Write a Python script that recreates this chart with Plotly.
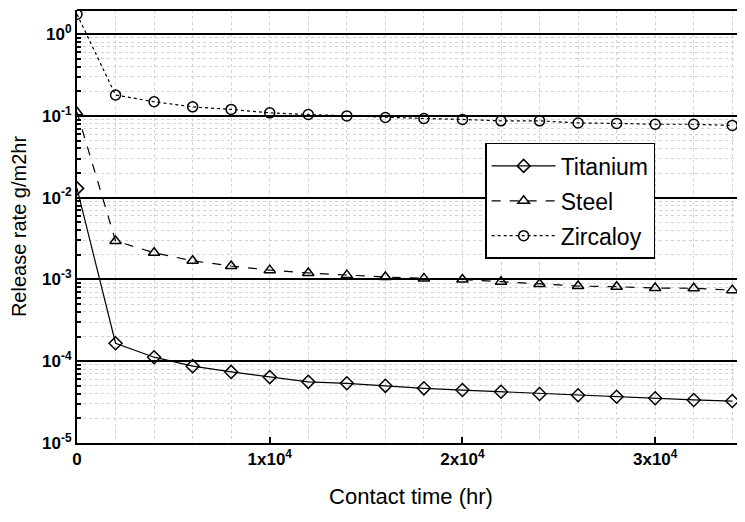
import plotly.graph_objects as go

time_hr = [0, 2000, 4000, 6000, 8000, 10000, 12000, 14000, 16000, 18000,
           20000, 22000, 24000, 26000, 28000, 30000, 32000, 34000]
titanium = [1.3e-2, 1.66e-4, 1.12e-4, 8.7e-5, 7.4e-5, 6.4e-5, 5.6e-5, 5.37e-5, 5.0e-5,
            4.66e-5, 4.44e-5, 4.24e-5, 3.97e-5, 3.83e-5, 3.68e-5, 3.52e-5, 3.36e-5, 3.26e-5]
steel = [0.111, 2.95e-3, 2.12e-3, 1.69e-3, 1.46e-3, 1.30e-3, 1.2e-3, 1.13e-3, 1.07e-3,
         1.03e-3, 1.0e-3, 9.4e-4, 8.8e-4, 8.3e-4, 8.15e-4, 7.85e-4, 7.8e-4, 7.4e-4]
zircaloy = [1.75, 0.18, 0.149, 0.129, 0.12, 0.109, 0.104, 0.100, 0.0957,
            0.093, 0.0905, 0.087, 0.087, 0.082, 0.081, 0.079, 0.079, 0.0765]

y_tickvals = [1e-5, 1e-4, 1e-3, 1e-2, 1e-1, 1e0]
y_ticktext = ["<b>10<sup>-5</sup></b>", "<b>10<sup>-4</sup></b>", "<b>10<sup>-3</sup></b>",
              "<b>10<sup>-2</sup></b>", "<b>10<sup>-1</sup></b>", "<b>10<sup>0</sup></b>"]
x_tickvals = [0, 10000, 20000, 30000]
x_ticktext = ["<b>0</b>", "<b>1x10<sup>4</sup></b>", "<b>2x10<sup>4</sup></b>", "<b>3x10<sup>4</sup></b>"]

y_minor = [m * 10.0 ** e for e in range(-5, 1) for m in range(2, 10)]
x_minor = list(range(2000, 36000, 2000))

fig = go.Figure()
series = [("Titanium", titanium, "solid", "diamond-open"),
          ("Steel", steel, "dash", "triangle-up-open"),
          ("Zircaloy", zircaloy, "dot", "circle-open")]
for name, vals, dash, sym in series:
    fig.add_trace(go.Scatter(
        x=time_hr, y=vals, name=name, mode="lines+markers", legendgroup=name,
        line=dict(color="black", width=1.2, dash=dash),
        marker=dict(symbol=sym, size=10, color="black", line=dict(width=1.5, color="black")),
    ))

# page body has an 8px margin, so the figure is 8px smaller and margins compensate
fig.update_layout(
    width=737, height=514,
    margin=dict(l=69, r=0, t=2, b=79),
    plot_bgcolor="white", paper_bgcolor="white",
    font=dict(family="Liberation Sans, Arial", color="black", size=15),
    legend=dict(x=0.611, y=0.693, xanchor="left", yanchor="top",
                bgcolor="white", bordercolor="black", borderwidth=1.5,
                font=dict(size=23), itemwidth=64, tracegroupgap=2,
                traceorder="grouped", entrywidth=135, entrywidthmode="pixels"),
    showlegend=True,
)
fig.update_xaxes(
    range=[0, 34660], tickvals=x_tickvals, ticktext=x_ticktext,
    ticks="inside", ticklen=6, tickcolor="black", tickwidth=2,
    showline=True, linecolor="black", linewidth=2, mirror=False,
    showgrid=False, zeroline=False, automargin=False,
    tickfont=dict(size=17),
    title=dict(text="Contact time (hr)", font=dict(size=22), standoff=20),
    minor=dict(tickvals=x_minor, ticks="", showgrid=True, gridcolor="#d2d2d2",
               griddash="dot", gridwidth=1),
)
fig.update_yaxes(
    type="log", range=[-5, 0.295], tickvals=y_tickvals, ticktext=y_ticktext,
    ticks="inside", ticklen=6, tickcolor="black", tickwidth=2,
    showline=True, linecolor="black", linewidth=2, mirror=False,
    showgrid=True, gridcolor="black", gridwidth=1.5, zeroline=False, automargin=False,
    tickfont=dict(size=17),
    title=dict(text="Release rate g/m2hr", font=dict(size=20), standoff=10),
    minor=dict(tickvals=y_minor, ticks="inside", ticklen=4, tickcolor="black",
               showgrid=True, gridcolor="#d2d2d2", griddash="dot", gridwidth=1),
)
fig.add_shape(type="line", xref="paper", yref="paper", x0=0, x1=1, y0=1, y1=1,
              line=dict(color="black", width=2))

fig.write_html("out.html")
